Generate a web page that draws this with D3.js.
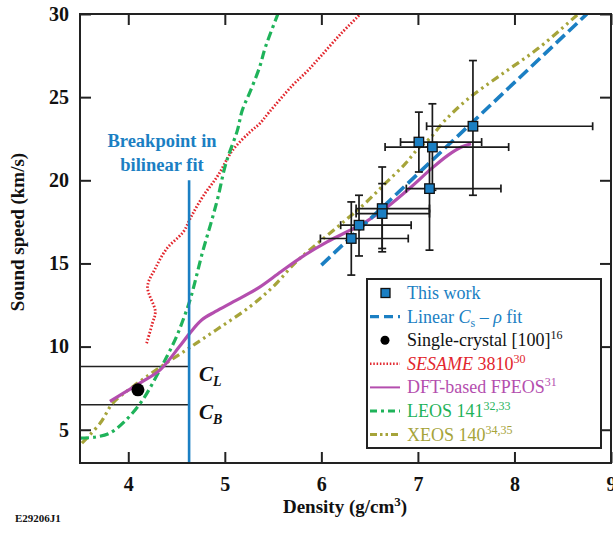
<!DOCTYPE html>
<html>
<head>
<meta charset="utf-8">
<script src="https://cdn.jsdelivr.net/npm/d3@7"></script>
<style>
  body { margin: 0; background: #fff; }
  text { font-family: "Liberation Serif", "DejaVu Serif", serif; }
</style>
</head>
<body>
<div id="chart"></div>
<script>
// ---- data ----
var xTicks = [4, 5, 6, 7, 8, 9];
var yTicks = [5, 10, 15, 20, 25, 30];

// This work (density, sound speed) with error bars
var ptDensity   = [6.31, 6.39, 6.63, 6.63, 7.01, 7.15, 7.12, 7.57];
var ptSpeed     = [16.5, 17.3, 18.3, 18.0, 22.3, 22.0, 19.5, 23.25];
var ptDensityLo = [5.99, 6.20, 6.36, 6.36, 6.82, 6.66, 6.88, 7.09];
var ptDensityHi = [6.90, 6.93, 7.12, 7.12, 7.66, 7.94, 7.86, 8.81];
var ptSpeedLo   = [14.3, 15.45, 15.9, 15.7, 20.5, 19.4, 15.8, 19.1];
var ptSpeedHi   = [18.7, 19.1, 20.8, 19.8, 24.1, 24.6, 22.0, 27.2];

var linearFit = [[6.0, 14.9], [8.75, 30.0]];
var singleCrystal = [4.10, 7.4];
var breakpoint = 4.63;
var breakpointTop = 20;
var cL = 8.8, cB = 6.5;

var sesame = [[4.19,10.2],[4.25,11.4],[4.28,12.1],[4.2,13.6],[4.28,14.7],[4.40,15.9],[4.57,16.9],
  [4.65,17.8],[4.77,19.0],[4.93,20.3],[5.08,21.8],[5.26,22.9],[5.36,23.4],[5.46,24.1],[5.70,25.7],
  [5.86,26.6],[6.0,27.5],[6.2,28.8],[6.37,29.8],[6.42,30.1]];
var fpeos = [[3.81,6.7],[3.95,7.2],[4.12,7.8],[4.33,8.6],[4.53,10.0],[4.65,10.9],[4.76,11.6],[4.9,12.1],
  [5.09,12.7],[5.34,13.5],[5.58,14.5],[5.8,15.4],[6.06,16.3],[6.3,17.0],[6.46,17.5],[6.66,18.3],
  [6.93,19.6],[7.14,20.7],[7.31,21.5],[7.45,22.0],[7.55,22.2]];
var leos = [[3.5,4.5],[3.65,4.55],[3.81,4.8],[3.98,5.6],[4.15,6.8],[4.29,8.2],[4.40,9.4],[4.50,10.6],
  [4.58,11.8],[4.65,13.0],[4.77,15.7],[4.86,17.5],[4.93,19.0],[5.01,21.0],[5.13,23.0],[5.18,24.2],
  [5.26,25.3],[5.36,26.8],[5.42,28.0],[5.55,30.0]];
var xeos = [[3.52,4.2],[3.71,5.4],[3.84,6.6],[4.05,7.6],[4.29,8.6],[4.60,9.8],[4.91,11.0],[5.26,12.4],
  [5.50,13.6],[5.74,15.1],[5.98,16.3],[6.23,17.5],[6.45,18.6],[6.66,19.8],[6.87,21.0],[7.0,21.9],
  [7.12,22.5],[7.28,23.6],[7.52,24.9],[7.85,26.3],[8.25,27.95],[8.66,30.0]];

// ---- layout ----
var w = 613, h = 534;
var margin = {top: 14, right: 2, bottom: 71, left: 80};
var blue = "#1b7fc3", red = "#e2262d", magenta = "#b44eae", green = "#1fb35a", olive = "#a6a43a";

var svg = d3.select("#chart").append("svg")
    .attr("width", w)
    .attr("height", h);

var xScale = d3.scaleLinear().domain([3.5, 9]).range([margin.left, w - margin.right]);
var yScale = d3.scaleLinear().domain([3, 30]).range([h - margin.bottom, margin.top]);

var defs = svg.append("defs");
defs.append("clipPath").attr("id", "plotclip").append("rect")
    .attr("x", margin.left).attr("y", margin.top)
    .attr("width", w - margin.left - margin.right)
    .attr("height", h - margin.top - margin.bottom);

// axes, ticks pointing inward on all four sides
var tickLen = 11;
var bottomAxis = d3.axisBottom(xScale).tickValues(xTicks).tickSize(-tickLen).tickPadding(14).tickFormat(d3.format("d"));
var topAxis = d3.axisTop(xScale).tickValues(xTicks).tickSize(-tickLen).tickFormat("");
var leftAxis = d3.axisLeft(yScale).tickValues(yTicks).tickSize(-tickLen).tickPadding(11).tickFormat(d3.format("d"));
var rightAxis = d3.axisRight(yScale).tickValues(yTicks).tickSize(-tickLen).tickFormat("");

function styleAxis(g) {
    g.select(".domain").remove();
    g.selectAll(".tick line").attr("stroke", "#222").attr("stroke-width", 2);
    g.selectAll(".tick text")
        .attr("fill", "#111")
        .style("font-family", "Liberation Serif, serif")
        .style("font-weight", "bold")
        .style("font-size", "20px");
}

svg.append("g").attr("transform", "translate(0," + (h - margin.bottom) + ")").call(bottomAxis).call(styleAxis);
svg.append("g").attr("transform", "translate(0," + margin.top + ")").call(topAxis).call(styleAxis);
svg.append("g").attr("transform", "translate(" + margin.left + ",0)").call(leftAxis).call(styleAxis);
svg.append("g").attr("transform", "translate(" + (w - margin.right) + ",0)").call(rightAxis).call(styleAxis);

var plot = svg.append("g").attr("clip-path", "url(#plotclip)");

var line = d3.line()
    .x(function(d) { return xScale(d[0]); })
    .y(function(d) { return yScale(d[1]); })
    .curve(d3.curveCatmullRom.alpha(0.5));

// C_L / C_B guide lines
[cL, cB].forEach(function(v) {
    plot.append("line")
        .attr("x1", xScale(3.5)).attr("x2", xScale(breakpoint))
        .attr("y1", yScale(v)).attr("y2", yScale(v))
        .attr("stroke", "#222").attr("stroke-width", 1.6);
});

// model curves
plot.append("path").datum(sesame).attr("d", line)
    .attr("fill", "none").attr("stroke", red).attr("stroke-width", 2.8)
    .attr("stroke-dasharray", "1.6,1.8");
plot.append("path").datum(xeos).attr("d", line)
    .attr("fill", "none").attr("stroke", olive).attr("stroke-width", 3.2)
    .attr("stroke-dasharray", "8,4,2.5,4,2.5,4");
plot.append("path").datum(leos).attr("d", line)
    .attr("fill", "none").attr("stroke", green).attr("stroke-width", 3.2)
    .attr("stroke-dasharray", "9,4,3,4");
plot.append("path").datum(fpeos).attr("d", line)
    .attr("fill", "none").attr("stroke", magenta).attr("stroke-width", 3.2);

// breakpoint line
plot.append("line")
    .attr("x1", xScale(breakpoint)).attr("x2", xScale(breakpoint))
    .attr("y1", yScale(breakpointTop)).attr("y2", yScale(3))
    .attr("stroke", blue).attr("stroke-width", 2.6);

// linear fit
plot.append("path").datum(linearFit).attr("d", d3.line()
        .x(function(d) { return xScale(d[0]); })
        .y(function(d) { return yScale(d[1]); }))
    .attr("fill", "none").attr("stroke", blue).attr("stroke-width", 3.6)
    .attr("stroke-dasharray", "12,5");

// error bars
var cap = 4;
var eb = plot.append("g").attr("stroke", "#1a1a1a").attr("stroke-width", 1.7);
ptDensity.forEach(function(d, i) {
    var cx = xScale(d), cy = yScale(ptSpeed[i]);
    var x0 = xScale(ptDensityLo[i]), x1 = xScale(ptDensityHi[i]);
    var y0 = yScale(ptSpeedLo[i]), y1 = yScale(ptSpeedHi[i]);
    eb.append("line").attr("x1", x0).attr("x2", x1).attr("y1", cy).attr("y2", cy);
    eb.append("line").attr("x1", x0).attr("x2", x0).attr("y1", cy - cap).attr("y2", cy + cap);
    eb.append("line").attr("x1", x1).attr("x2", x1).attr("y1", cy - cap).attr("y2", cy + cap);
    eb.append("line").attr("x1", cx).attr("x2", cx).attr("y1", y0).attr("y2", y1);
    eb.append("line").attr("x1", cx - cap).attr("x2", cx + cap).attr("y1", y0).attr("y2", y0);
    eb.append("line").attr("x1", cx - cap).attr("x2", cx + cap).attr("y1", y1).attr("y2", y1);
});

// squares
var sq = 9.5;
plot.selectAll("rect.pt").data(ptDensity).enter().append("rect")
    .attr("class", "pt")
    .attr("x", function(d) { return xScale(d) - sq / 2; })
    .attr("y", function(d, i) { return yScale(ptSpeed[i]) - sq / 2; })
    .attr("width", sq).attr("height", sq)
    .attr("fill", blue).attr("stroke", "#111").attr("stroke-width", 1.3);

// single crystal
plot.append("circle")
    .attr("cx", xScale(singleCrystal[0])).attr("cy", yScale(singleCrystal[1]))
    .attr("r", 6.5).attr("fill", "#000");

// frame
svg.append("rect")
    .attr("x", margin.left).attr("y", margin.top)
    .attr("width", w - margin.left - margin.right)
    .attr("height", h - margin.top - margin.bottom)
    .attr("fill", "none").attr("stroke", "#222").attr("stroke-width", 2);

// breakpoint annotation
var bp = svg.append("text").attr("fill", blue)
    .attr("text-anchor", "middle")
    .style("font-size", "18.5px").style("font-weight", "bold");
bp.append("tspan").attr("x", 162).attr("y", 147).text("Breakpoint in");
bp.append("tspan").attr("x", 162).attr("y", 171).text("bilinear fit");

// C_L, C_B labels
[["L", cL], ["B", cB]].forEach(function(d) {
    var t = svg.append("text")
        .attr("x", xScale(breakpoint) + 10)
        .attr("y", yScale(d[1]) + 14)
        .style("font-size", "21px").style("font-weight", "bold").style("font-style", "italic")
        .attr("fill", "#111");
    t.append("tspan").text("C");
    t.append("tspan").attr("dy", 5).style("font-size", "14px").text(d[0]);
});

// axis titles
svg.append("text")
    .attr("x", 345).attr("y", 513)
    .attr("text-anchor", "middle")
    .style("font-size", "19px").style("font-weight", "bold")
    .attr("fill", "#111")
    .html('Density (g/cm<tspan dy="-7" font-size="13px">3</tspan><tspan dy="7">)</tspan>');

svg.append("text")
    .attr("transform", "translate(24,232) rotate(-90)")
    .attr("text-anchor", "middle")
    .style("font-size", "19px").style("font-weight", "bold")
    .attr("fill", "#111")
    .text("Sound speed (km/s)");

svg.append("text")
    .attr("x", 15).attr("y", 522)
    .style("font-size", "11px").style("font-weight", "bold")
    .attr("fill", "#111")
    .text("E29206J1");

// legend
var lg = svg.append("g");
lg.append("rect")
    .attr("x", 367).attr("y", 279).attr("width", 234).attr("height", 169)
    .attr("fill", "#fff").attr("stroke", "#222").attr("stroke-width", 2);

var legendLabels = [
    {color: blue, html: 'This work', sym: "square"},
    {color: blue, html: 'Linear <tspan font-style="italic">C</tspan><tspan dy="4" font-size="12px">s</tspan><tspan dy="-4"> \u2013 </tspan><tspan font-style="italic">\u03c1</tspan> fit', sym: "dash", dash: "9,5", width: 3.4},
    {color: "#111", html: 'Single-crystal [100]<tspan dy="-7" font-size="12px">16</tspan>', sym: "dot"},
    {color: red, html: '<tspan font-style="italic">SESAME</tspan> 3810<tspan dy="-7" font-size="12px">30</tspan>', sym: "dash", dash: "1.5,1.8", width: 2.4},
    {color: magenta, html: 'DFT-based FPEOS<tspan dy="-7" font-size="12px">31</tspan>', sym: "dash", dash: null, width: 2},
    {color: green, html: 'LEOS 141<tspan dy="-7" font-size="12px">32,33</tspan>', sym: "dash", dash: "7,4,3,4", width: 3},
    {color: olive, html: 'XEOS 140<tspan dy="-7" font-size="12px">34,35</tspan>', sym: "dash", dash: "7,3,2.5,3,2.5,3", width: 3}
];
var rowY0 = 293, rowStep = 23.6;
legendLabels.forEach(function(d, i) {
    var y = rowY0 + i * rowStep;
    if (d.sym === "square") {
        lg.append("rect").attr("x", 381).attr("y", y - 4.5).attr("width", 9).attr("height", 9)
            .attr("fill", blue).attr("stroke", "#111").attr("stroke-width", 1.3);
    } else if (d.sym === "dot") {
        lg.append("circle").attr("cx", 385).attr("cy", y).attr("r", 4.5).attr("fill", "#000");
    } else {
        lg.append("line").attr("x1", 370).attr("x2", 400).attr("y1", y).attr("y2", y)
            .attr("stroke", d.color).attr("stroke-width", d.width)
            .attr("stroke-dasharray", d.dash);
    }
    lg.append("text")
        .attr("x", 407).attr("y", y + 6)
        .attr("fill", d.color)
        .style("font-size", "18px")
        .html(d.html);
});
</script>
</body>
</html>
